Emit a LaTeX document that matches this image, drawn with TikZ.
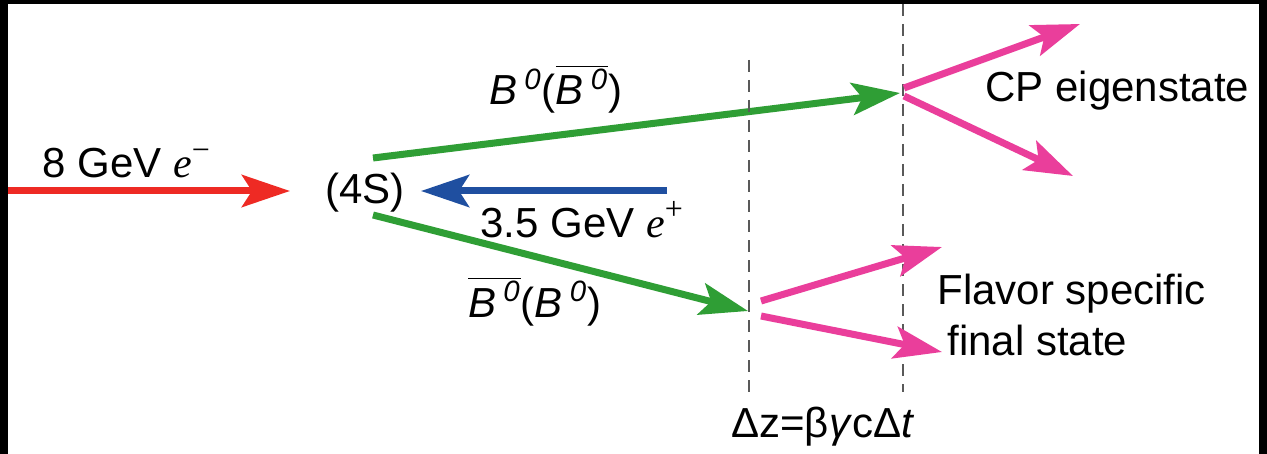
\documentclass[tikz,border=0pt]{standalone}
\usepackage{fontspec}
\setmainfont{Liberation Sans}
\newfontfamily\serif{Liberation Serif}
\usetikzlibrary{arrows.meta}

\definecolor{beamred}{HTML}{EE2A24}
\definecolor{beamblue}{HTML}{1F4FA0}
\definecolor{mesongreen}{HTML}{2F9E35}
\definecolor{decaypink}{HTML}{EA3E9B}

\newcommand{\lep}[1]{{\serif\itshape e}\raisebox{0.42em}{\fontsize{16}{16}\selectfont\serif #1}}

\begin{document}
\begin{tikzpicture}[x=0.5pt, y=-0.5pt,
    beam/.style={line width=3.5pt, -{Stealth[length=24pt, width=16pt, inset=5pt]}},
    guide/.style={gray!70!black, line width=1.4pt, dash pattern=on 6pt off 4pt},
    lbl/.style={font=\fontsize{21}{25}\selectfont, inner sep=0pt, anchor=base west}]

    % Positions of the two decay planes (pixels of the frame)
    \pgfmathsetmacro{\ztag}{749} % flavour-tag vertex
    \pgfmathsetmacro{\zcp}{903}  % CP vertex

    % --- 1. Frame ---
    \useasboundingbox (0,0) rectangle (1267,454);
    \fill[black] (0,0) rectangle (1267,454);
    \fill[white] (8,4) rectangle (1259,454);

    % --- 2. Beams and the resonance ---
    \node[font=\fontsize{21}{25}\selectfont, inner sep=0pt] (Y4S) at (365,193) {(4S)};

    \coordinate (Ein)  at (8,191);
    \coordinate (Eend) at (290,191);
    \coordinate (Pin)  at (667,191);
    \coordinate (Pend) at (421,191);

    \draw[beam, beamred] (Ein) -- (Eend);
    \draw[beam, beamblue] (Pin) -- (Pend);

    \node[lbl] (Elbl) at (42,178) {8 GeV \lep{−}};
    \node[lbl] (Plbl) at (480,237) {3.5 GeV \lep{+}};

    % --- 3. The B meson pair ---
    \coordinate (Bup)  at (373,158);
    \coordinate (Bdn)  at (373,215);
    \coordinate (Vcp)  at (\zcp-3,93);
    \coordinate (Vtag) at (\ztag-1,311);

    \draw[beam, mesongreen] (Bup) -- (Vcp);
    \draw[beam, mesongreen] (Bdn) -- (Vtag);

    \node[lbl] (Bcplbl) at (489,105)
        {\textit{B}\,\textsuperscript{\textit{0}}($\overline{\mbox{\textit{B}\,\textsuperscript{\textit{0}}}}$)};
    \node[lbl] (Btaglbl) at (468,317)
        {$\overline{\mbox{\textit{B}\,\textsuperscript{\textit{0}}}}$(\textit{B}\,\textsuperscript{\textit{0}})};

    % --- 4. Decay planes ---
    \coordinate (Ttop) at (\ztag,60);
    \coordinate (Tbot) at (\ztag,395);
    \coordinate (Ctop) at (\zcp,4);
    \coordinate (Cbot) at (\zcp,392);

    \draw[guide] (Ttop) -- (Tbot);
    \draw[guide] (Ctop) -- (Cbot);

    \node[lbl] (dz) at (731,437) {Δz=β\textit{γ}cΔ\textit{t}};

    % --- 5. Decay products ---
    \coordinate (Cp1s) at (\zcp+1,88);
    \coordinate (Cp1e) at (1080,24);
    \coordinate (Cp2s) at (\zcp+1,96);
    \coordinate (Cp2e) at (1073,176);
    \coordinate (Fl1s) at (761,301);
    \coordinate (Fl1e) at (942,247);
    \coordinate (Fl2s) at (761,316);
    \coordinate (Fl2e) at (942,352);

    \draw[beam, decaypink] (Cp1s) -- (Cp1e);
    \draw[beam, decaypink] (Cp2s) -- (Cp2e);
    \draw[beam, decaypink] (Fl1s) -- (Fl1e);
    \draw[beam, decaypink] (Fl2s) -- (Fl2e);

    \node[lbl] (cplbl) at (985,102) {CP eigenstate};
    \node[lbl] (fl1lbl) at (937,304) {Flavor specific};
    \node[lbl] (fl2lbl) at (947,355) {final state};

\end{tikzpicture}
\end{document}
